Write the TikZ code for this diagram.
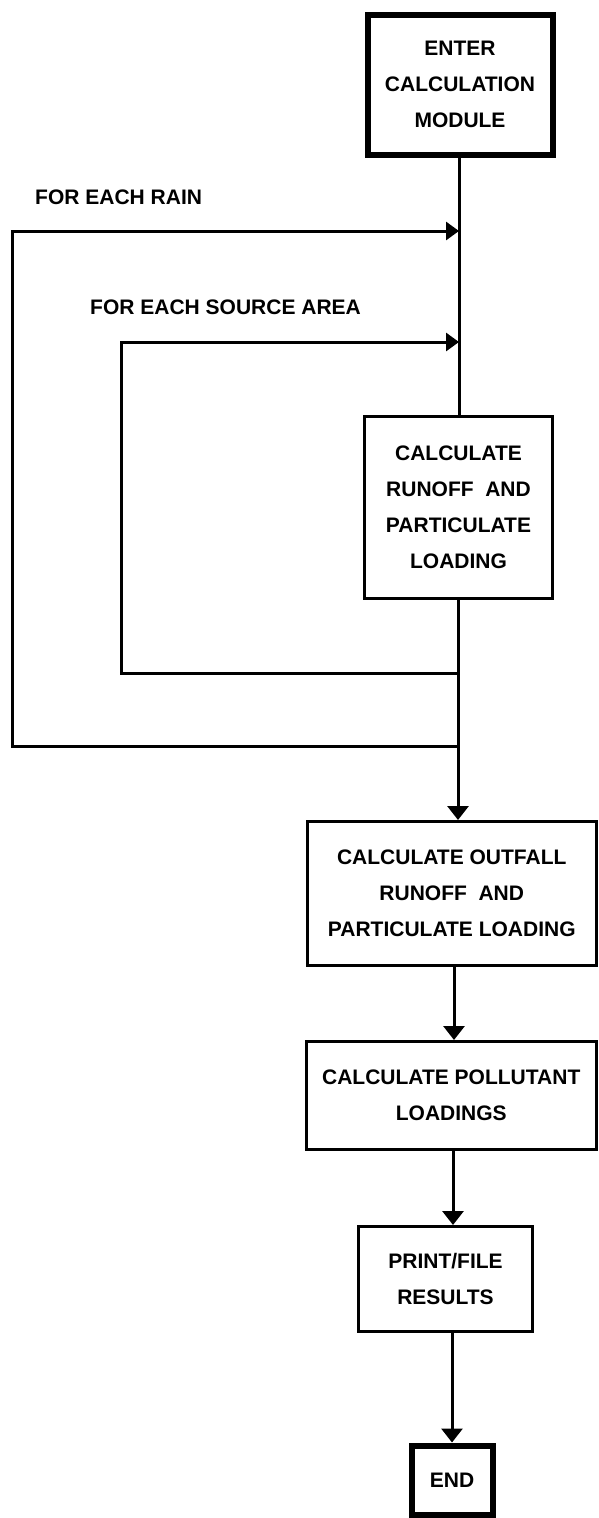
\documentclass[tikz,border=0pt]{standalone}
\usepackage{fontspec}
\setmainfont{Liberation Sans}
\usetikzlibrary{arrows.meta}
\begin{document}
\begin{tikzpicture}[x=1pt,y=-1pt,
  txt/.style={font=\fontsize{21}{36}\selectfont\bfseries, align=center},
  box/.style={txt, draw, line width=3pt, inner sep=0pt},
  thickbox/.style={box, line width=6pt},
  ln/.style={line width=3pt, line join=miter},
  arr/.style={ln, -{Triangle[length=14pt,width=21pt]}},
  harr/.style={ln, -{Triangle[length=13pt,width=18pt]}}]
\clip (0,0) rectangle (598,1518);
\fill[white] (0,0) rectangle (598,1518);

% boxes
\node[thickbox, minimum width=185pt, minimum height=140pt] (enter) at (460,84.5) {ENTER\\CALCULATION\\MODULE};
\node[box, minimum width=188pt, minimum height=182pt] (runoff) at (458.5,507.5) {CALCULATE\\RUNOFF\ \ AND\\PARTICULATE\\LOADING};
\node[box, minimum width=288.5pt, minimum height=144pt] (outfall) at (451.75,893.5) {CALCULATE OUTFALL\\RUNOFF\ \ AND\\PARTICULATE LOADING};
\node[box, minimum width=289.5pt, minimum height=108pt] (pollut) at (451.25,1095.5) {CALCULATE POLLUTANT\\LOADINGS};
\node[box, minimum width=174pt, minimum height=105pt] (print) at (445.5,1279) {PRINT/FILE\\RESULTS};
\node[thickbox, minimum width=81pt, minimum height=69pt] (end) at (452,1480) {END};

% loop labels
\node[txt, anchor=west, inner sep=0pt] (rainlbl) at (35,197) {FOR EACH RAIN};
\node[txt, anchor=west, inner sep=0pt] (srclbl) at (90,307) {FOR EACH SOURCE AREA};

% junctions
\coordinate (rainIn) at (459,231);
\coordinate (srcIn) at (459,342);
\coordinate (srcOut) at (458,673);
\coordinate (rainOut) at (458,746);
\coordinate (rainTL) at (12,231);
\coordinate (rainBL) at (12,746);
\coordinate (srcTL) at (121,342);
\coordinate (srcBL) at (121,673);
\coordinate (a1) at (454,0);
\coordinate (a2) at (453,0);
\coordinate (a3) at (452,0);

% spine
\draw[ln] (enter.south -| rainIn) -- (runoff.north -| rainIn);
\draw[ln] (runoff.south -| rainOut) -- (rainOut);
\draw[arr] (rainOut) -- (outfall.north -| rainOut);

% loops
\draw[harr] (rainOut) -- (rainBL) -- (rainTL) -- (rainIn);
\draw[harr] (srcOut) -- (srcBL) -- (srcTL) -- (srcIn);

% lower flow
\draw[arr] (outfall.south -| a1) -- (pollut.north -| a1);
\draw[arr] (pollut.south -| a2) -- (print.north -| a2);
\draw[arr] (print.south -| a3) -- (end.north -| a3);
\end{tikzpicture}
\end{document}
